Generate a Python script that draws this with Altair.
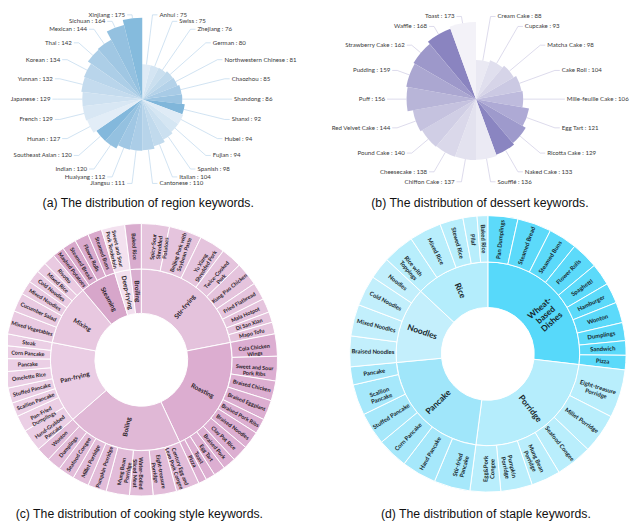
import math
import altair as alt
import pandas as pd

# ---------------- data ----------------
region_names = ["Anhui", "Swiss", "Zhejiang", "German", "Northwestern Chinese", "Chaozhou",
                "Shandong", "Shanxi", "Hubei", "Fujian", "Spanish", "Italian", "Cantonese",
                "Jiangsu", "Huaiyang", "Indian", "Southeast Asian", "Hunan", "French",
                "Japanese", "Yunnan", "Korean", "Thai", "Mexican", "Sichuan", "Xinjiang"]
region_counts = [75, 75, 76, 80, 81, 85, 86, 92, 94, 94, 98, 104, 110, 111, 112, 120, 120,
                 127, 129, 129, 132, 134, 142, 144, 164, 175]

dessert_names = ["Cream Cake", "Cupcake", "Matcha Cake", "Cake Roll", "Mille-feuille Cake",
                 "Egg Tart", "Ricotta Cake", "Naked Cake", "Soufflé", "Chiffon Cake",
                 "Cheesecake", "Pound Cake", "Red Velvet Cake", "Puff", "Pudding",
                 "Strawberry Cake", "Waffle", "Toast"]
dessert_counts = [88, 93, 98, 104, 106, 121, 129, 133, 136, 137, 138, 140, 144, 156, 159,
                  162, 168, 173]

cook_groups = ["Stir-frying", "Roasting", "Boiling", "Pan-frying", "Mixing", "Steaming",
               "Deep-frying", "Broiling"]
cook_leaves = [
    ["Spicy-Sour\nShredded\nPotatoes", "Beijing Pork with\nSoybean Paste", "Yu Xiang\nShredded Pork",
     "Twice-Cooked\nPork", "Kung Pao Chicken", "Fried Flatbread", "Mala Hotpot", "Di San Xian",
     "Mapo Tofu"],
    ["Cola Chicken\nWings", "Sweet and Sour\nPork Ribs", "Braised Chicken", "Braised Eggplant",
     "Braised Pork Ribs", "Braised Noodles", "Clay Pot Rice", "Braised Pork", "Egg Tart", "Toast",
     "Pizza"],
    ["Century Egg and\nLean Pork Congee", "Eight-treasure\nPorridge", "Water-Boiled\nSliced Meat",
     "Mung Bean\nPorridge", "Pumpkin Porridge", "Millet Porridge", "Seafood Congee", "Dumplings",
     "Wonton"],
    ["Hand-Grabbed\nPancake", "Pan-Fried\nDumplings", "Scallion Pancake", "Stuffed Pancake",
     "Omelette Rice", "Pancake", "Corn Pancake", "Steak"],
    ["Mixed Vegetables", "Cucumber Salad", "Mixed Noodles", "Cold Noodles", "Mixed Rice", "Risotto"],
    ["Mashed Potatoes", "Steamed Bread", "Flower Rolls", "Steamed Buns"],
    ["Sweet and Sour\nPork Tenderloin"],
    ["Baked Rice"],
]
cook_values = [
    [12, 14, 11, 9, 10, 7.5, 6, 4.5, 5],
    [9.5, 10.5, 8.5, 8.5, 6.5, 7.5, 7, 5.5, 5, 4, 3.5],
    [10, 10, 10, 10, 8, 7, 7, 6, 6],
    [9.5, 7, 6, 6.5, 7, 5.5, 5.5, 5],
    [10, 8, 6, 5.5, 4.5, 5],
    [5, 6, 6, 6],
    [10],
    [7],
]

staple_groups = ["Wheat-\nbased\nDishes", "Porridge", "Pancake", "Noodles", "Rice"]
staple_leaves = [
    ["Pan Dumplings", "Steamed Bread", "Steamed Buns", "Flower Rolls", "Spaghetti", "Hamburger",
     "Wonton", "Dumplings", "Sandwich", "Pizza"],
    ["Eight-treasure\nPorridge", "Millet Porridge", "Seafood Congee", "Mung Bean\nPorridge",
     "Pumpkin\nPorridge", "Egg&Pork\nCongee"],
    ["Stir-fried\nPancake", "Hand Pancake", "Corn Pancake", "Stuffed Pancake", "Scallion\nPancake",
     "Pancake"],
    ["Braised Noodles", "Mixed Noodles", "Cold Noodles", "Noodles"],
    ["Rice with\nToppings", "Mixed Rice", "Stewed Rice", "Pilaf", "Baked Rice"],
]
staple_values = [
    [12.6, 14.3, 12, 11.4, 9.3, 8.6, 8.7, 7.6, 6.1, 6.1],
    [20.3, 16.7, 15.3, 12.3, 13.3, 12.9],
    [15.2, 14.6, 13, 13.7, 13, 7.6],
    [12.9, 13.3, 12.9, 9.3],
    [13.3, 13.5, 9.8, 5.9, 4.5],
]

captions = ["(a) The distribution of region keywords.",
            "(b) The distribution of dessert keywords.",
            "(c) The distribution of cooking style keywords.",
            "(d) The distribution of staple keywords."]

# ---------------- styles ----------------
region_colors = ["#dfebf6", "#d4e5f3", "#cadfef", "#bfd9ec", "#b4d2e9", "#a8cbe6", "#9bc4e2", "#80b6da",
                 "#dfebf6", "#d5e6f3", "#cbe0f0", "#c1daed", "#b7d4ea", "#abcde7", "#a0c7e4", "#94c1e0", "#83b8dc",
                 "#e2edf7", "#d8e7f4", "#cee1f1", "#c4dbee", "#b9d5eb", "#accee7", "#a0c7e3", "#94c1e0", "#85bbdd"]
dessert_colors = ["#eae9f3", "#e0dfee", "#d6d4e8", "#cbc9e3", "#bebbdd", "#aeaad5", "#9e9acc", "#8a85c1",
                  "#ebeaf4", "#e3e2ef", "#dad8ea", "#d0cee5", "#c5c2df", "#b8b5d8", "#aba7d1", "#9d98ca", "#8a84c0",
                  "#f3f2f8"]
cook_inner_colors = ["#e4c2dc", "#dcadd0", "#e0b8d6", "#eacde4", "#e8c8e0", "#d7a6ca", "#f2dfee", "#d9afd0"]
cook_outer_colors = ["#e5c4dd", "#dcaed1", "#e2bcd9", "#ebcfe5", "#e9cae1", "#d9a9cc", "#f3e1ef", "#d9acce"]
staple_inner_colors = ["#57d9fa", "#b5edfc", "#a0e6fa", "#c4effc", "#b4edfc"]
staple_outer_colors = ["#5cdafa", "#b9eefc", "#a6e8fb", "#c2effc", "#b8eefc"]

W, H = 632, 515
XS = alt.Scale(domain=[8, 8 + W], range=[0, W])
YS = alt.Scale(domain=[8, 8 + H], range=[0, H])


def X(f):
    return alt.X(f, scale=XS, axis=None)


def Y(f):
    return alt.Y(f, scale=YS, axis=None)


def rose(names, counts, colors, cx, cy, rmax_val, rmax_px, R, line_col, gap=6.6):
    n = len(names)
    step = 2 * math.pi / n
    k = rmax_px / rmax_val
    wed = []
    geo = []
    for i, (nm, v, c) in enumerate(zip(names, counts, colors)):
        tm = (i + 0.5) * step
        wed.append(dict(name=nm, value=v, t0=i * step, t1=(i + 1) * step, color=c, cx=cx, cy=cy))
        s, co = math.sin(tm), math.cos(tm)
        geo.append(dict(s=s, co=co, ly=cy - R * co, side=1 if s >= 0 else -1))
    # keep neighbouring labels apart
    for side in (1, -1):
        idx = sorted([i for i in range(n) if geo[i]["side"] == side], key=lambda i: geo[i]["ly"])
        top = [i for i in idx if geo[i]["ly"] < cy]
        bot = [i for i in idx if geo[i]["ly"] >= cy]
        for a, b in zip(top, top[1:]):
            if geo[b]["ly"] < geo[a]["ly"] + gap:
                geo[b]["ly"] = geo[a]["ly"] + gap
        for j in range(len(bot) - 1, 0, -1):
            a, b = bot[j], bot[j - 1]
            if geo[b]["ly"] > geo[a]["ly"] - gap:
                geo[b]["ly"] = geo[a]["ly"] - gap
    lines, lab = [], []
    for i, (nm, v) in enumerate(zip(names, counts)):
        g = geo[i]
        ex = cx + R * g["s"]
        pts = [(cx + v * k * g["s"], cy - v * k * g["co"]), (ex, g["ly"]), (ex + g["side"] * 5, g["ly"])]
        for j, (px, py) in enumerate(pts):
            lines.append(dict(name=nm, ord=j, px=px, py=py))
        lab.append(dict(text=f"{nm} : {v}", px=pts[2][0] + g["side"] * 2, py=g["ly"],
                        side="r" if g["side"] > 0 else "l"))
    wdf, ldf, tdf = pd.DataFrame(wed), pd.DataFrame(lines), pd.DataFrame(lab)
    arcs = alt.Chart(wdf).mark_arc().encode(
        theta=alt.Theta("t0:Q", scale=None, stack=None), theta2="t1:Q",
        radius=alt.Radius("value:Q", scale=alt.Scale(type="linear", domain=[0, rmax_val],
                                                     range=[0, rmax_px], zero=True)),
        x=X("cx:Q"), y=Y("cy:Q"),
        color=alt.Color("color:N", scale=None))
    lns = alt.Chart(ldf).mark_line(color=line_col, strokeWidth=0.7).encode(
        x=X("px:Q"), y=Y("py:Q"), detail="name:N", order="ord:Q")
    out = [arcs, lns]
    for sd, al in (("r", "left"), ("l", "right")):
        out.append(alt.Chart(tdf[tdf.side == sd]).mark_text(
            align=al, baseline="middle", font="Lato", fontSize=6.2, color="#3a3a3a").encode(
            x=X("px:Q"), y=Y("py:Q"), text="text:N"))
    return out


def radial_angle(tm):
    d = math.degrees(tm)
    a = d - 90 if d <= 180.01 else d - 270
    return a % 360


def sunburst(groups, leaves, values, cx, cy, r0, r1, r2, icol, ocol,
             ifs, ofs, iweight, oweight, tcol):
    total = sum(sum(v) for v in values)
    f = 2 * math.pi / total
    inner, outer = [], []
    acc = 0.0
    for gi, g in enumerate(groups):
        g0 = acc
        for lb, v in zip(leaves[gi], values[gi]):
            a0 = acc * f
            acc += v
            a1 = acc * f
            outer.append(dict(label=lb, t0=a0, t1=a1, color=ocol[gi], cx=cx, cy=cy))
        inner.append(dict(label=g, t0=g0 * f, t1=acc * f, color=icol[gi], cx=cx, cy=cy))
    layers = []
    for rows, ra, rb, fs, fw in ((inner, r0, r1, ifs, iweight), (outer, r1, r2, ofs, oweight)):
        df = pd.DataFrame(rows)
        tm = (df.t0 + df.t1) / 2
        rm = (ra + rb) / 2
        df["px"] = cx + rm * tm.map(math.sin)
        df["py"] = cy - rm * tm.map(math.cos)
        df["ang"] = tm.map(radial_angle)
        layers.append(alt.Chart(df).mark_arc(radius=rb, radius2=ra, stroke="white",
                                             strokeWidth=1).encode(
            theta=alt.Theta("t0:Q", scale=None, stack=None), theta2="t1:Q",
            x=X("cx:Q"), y=Y("cy:Q"), color=alt.Color("color:N", scale=None)))
        layers.append(alt.Chart(df).mark_text(
            align="center", baseline="middle", font="Lato", fontSize=fs, fontWeight=fw,
            color=tcol, lineBreak="\n", lineHeight=fs + 0.8).encode(
            x=X("px:Q"), y=Y("py:Q"), angle=alt.Angle("ang:Q", scale=None), text="label:N"))
    return layers


layers = []
layers += rose(region_names, region_counts, region_colors, 144, 97, 175, 82.5, 86, "#bcd6ec")
layers += rose(dessert_names, dessert_counts, dessert_colors, 482, 97, 173, 78, 85, "#cdcbe4")
layers += sunburst(cook_groups, cook_leaves, cook_values, 143, 361, 47, 92, 138,
                   cook_inner_colors, cook_outer_colors, 6.5, 5.5, "bold", "bold", "#2a2127")
layers += sunburst(staple_groups, staple_leaves, staple_values, 494, 355, 47, 93, 140,
                   staple_inner_colors, staple_outer_colors, 8.5, 6, "bold", "bold", "#16262b")

cap_x = [150, 486, 141, 492]
cap_y = [202, 202, 517, 517]
cap_df = pd.DataFrame(dict(text=captions, px=cap_x, py=cap_y))
layers.append(alt.Chart(cap_df).mark_text(
    align="center", baseline="middle", font="Liberation Sans", fontSize=12.4, color="#111111").encode(
    x=X("px:Q"), y=Y("py:Q"), text="text:N"))

chart = alt.layer(*layers).resolve_scale(radius="independent").properties(
    width=W, height=H, padding=0, autosize="none", background="white"
).configure_view(stroke=None)

chart.save("out.html", embed_options={"renderer": "svg", "actions": False})
